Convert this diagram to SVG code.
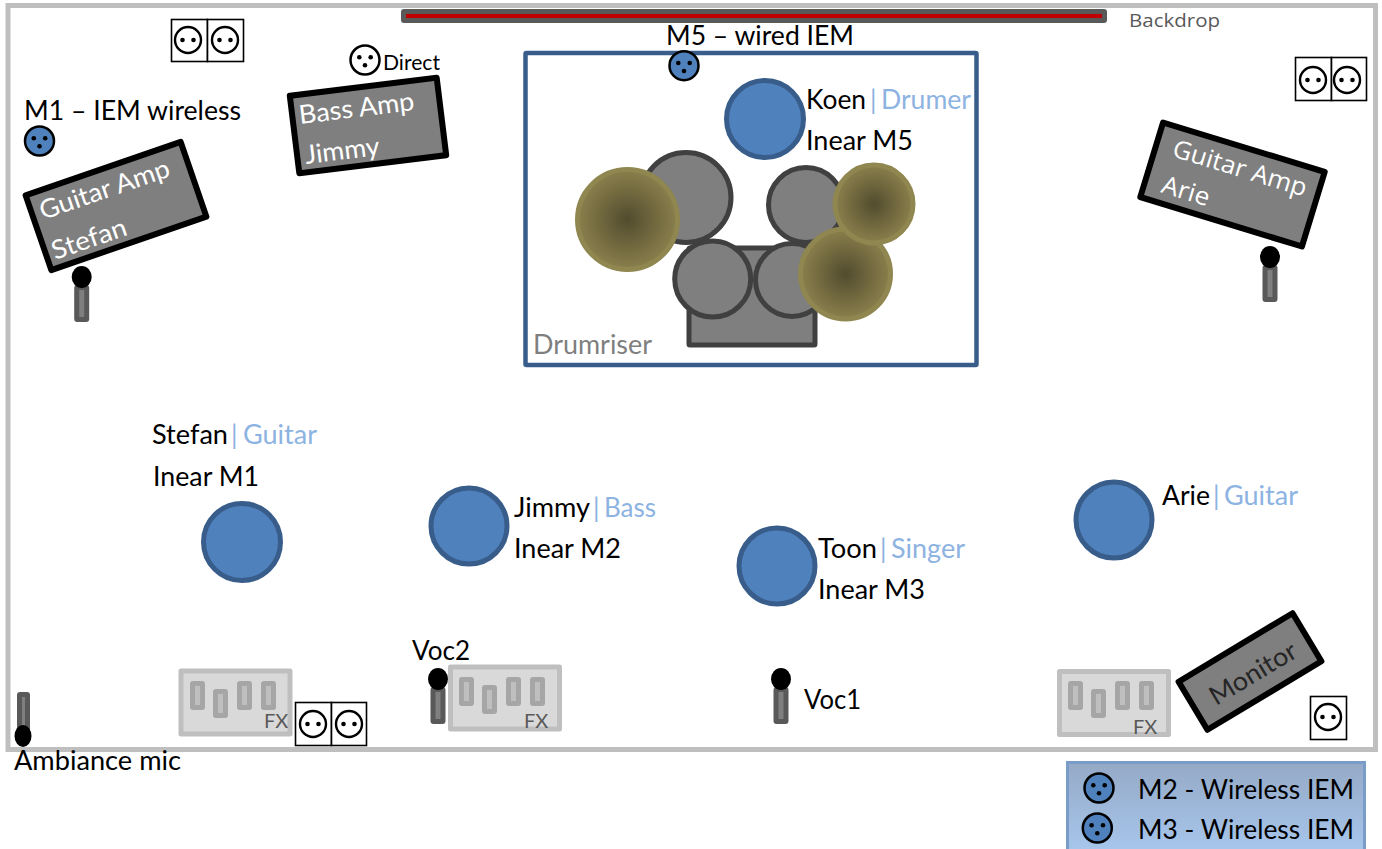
<svg xmlns="http://www.w3.org/2000/svg" xmlns:xlink="http://www.w3.org/1999/xlink" width="1382" height="849" viewBox="0 0 1382 849">
<style>
text{font-family:"Lato","Carlito","Liberation Sans",sans-serif;font-size:26px;fill:#000}
.w{fill:#fff}.b{fill:#8db3e2}.g{fill:#7f7f7f}
.os{font-family:"Open Sans","Liberation Sans",sans-serif}
.amp{fill:#7f7f7f;stroke:#000;stroke-width:6;stroke-linejoin:round}
.p{fill:#4f81bd;stroke:#385d8a;stroke-width:5}
.d{fill:#7f7f7f;stroke:#404040;stroke-width:5}
.c{fill:url(#cym);stroke:#8f8650;stroke-width:5}
.fxb{fill:#d9d9d9;stroke:#bfbfbf;stroke-width:5;stroke-linejoin:round}
.sl{fill:#a6a6a6}.si{fill:#bfbfbf}
.fx{font-size:20px;fill:#595959}
.sb{fill:#fff;stroke:#000;stroke-width:1.6}
.sc{fill:#fff;stroke:#000;stroke-width:2.4}
.xw{fill:#fff;stroke:#000;stroke-width:2.5}
.xb{fill:#4f81bd;stroke:#000;stroke-width:2.5}
</style>
<defs>
<radialGradient id="cym"><stop offset="0" stop-color="#524c2e"/><stop offset="1" stop-color="#8a7f4c"/></radialGradient>
<linearGradient id="leg" x1="0" y1="0" x2="0" y2="1"><stop offset="0" stop-color="#95a9c6"/><stop offset="1" stop-color="#a9caf1"/></linearGradient>
<g id="dots3"><circle cx="-5.7" cy="-2.7" r="2.3"/><circle cx="5.7" cy="-2.7" r="2.3"/><circle cx="0" cy="5.3" r="2.3"/></g>
<g id="pin"><circle r="13" class="sc"/><circle cx="-5.5" r="2.3"/><circle cx="5.5" r="2.3"/></g>
<g id="mic"><rect x="-7.500" y="8" width="15" height="37" rx="3" fill="#595959"/><rect x="-2.500" y="13" width="5" height="27" fill="#7f7f7f"/><ellipse cx="0" cy="0" rx="10" ry="11"/></g>
<g id="fxs"><rect x="11" y="12" width="15" height="29" rx="3" class="sl"/><rect x="16" y="17" width="5" height="19" class="si"/><rect x="34" y="20" width="15" height="29" rx="3" class="sl"/><rect x="39" y="25" width="5" height="19" class="si"/><rect x="58" y="12" width="15" height="29" rx="3" class="sl"/><rect x="63" y="17" width="5" height="19" class="si"/><rect x="82" y="12" width="15" height="29" rx="3" class="sl"/><rect x="87" y="17" width="5" height="19" class="si"/></g>
</defs>
<g id="stage"><rect x="8" y="5.5" width="1367.5" height="744" fill="#fff" stroke="#bfbfbf" stroke-width="5"/></g>
<g id="backdrop"><rect x="401" y="9" width="706" height="14" rx="3" fill="#595959"/><rect x="406" y="14" width="696" height="4" fill="#c00000"/><text x="1129" y="27" class="os" style="font-size:19px;fill:#595959" textLength="91" lengthAdjust="spacingAndGlyphs">Backdrop</text></g>
<g id="drumriser"><rect x="525.5" y="53" width="451" height="312" rx="1" fill="#fff" stroke="#385d8a" stroke-width="4.5"/><text x="533" y="354" class="g" textLength="119" lengthAdjust="spacingAndGlyphs">Drumriser</text></g>
<g id="drums">
<circle class="d" cx="686" cy="197.5" r="45"/>
<circle class="d" cx="806" cy="205" r="37.5"/>
<rect class="d" x="689" y="248" width="126" height="97" rx="1"/>
<circle class="d" cx="792" cy="280" r="36.5"/>
<circle class="d" cx="712.7" cy="279" r="38"/>
<circle class="c" cx="627.500" cy="219.500" r="50"/>
<circle class="c" cx="845.500" cy="274" r="45"/>
<circle class="c" cx="874" cy="204" r="39"/>
</g>
<g id="koen"><circle class="p" cx="765" cy="119" r="38.5"/><text x="806" y="108.500" textLength="60" lengthAdjust="spacingAndGlyphs">Koen</text><text x="870" y="108.500" class="b">|</text><text x="881" y="108.500" class="b" textLength="90" lengthAdjust="spacingAndGlyphs">Drumer</text><text x="806" y="149.500" textLength="107" lengthAdjust="spacingAndGlyphs">Inear M5</text></g>
<g id="stefan"><circle class="p" cx="242" cy="542" r="38.5"/><text x="152" y="444" textLength="76" lengthAdjust="spacingAndGlyphs">Stefan</text><text x="231" y="444" class="b">|</text><text x="243" y="444" class="b" textLength="74" lengthAdjust="spacingAndGlyphs">Guitar</text><text x="153" y="486" textLength="106" lengthAdjust="spacingAndGlyphs">Inear M1</text></g>
<g id="jimmy"><circle class="p" cx="469" cy="526" r="38"/><text x="514" y="517" textLength="76" lengthAdjust="spacingAndGlyphs">Jimmy</text><text x="593" y="517" class="b">|</text><text x="604" y="517" class="b" textLength="52" lengthAdjust="spacingAndGlyphs">Bass</text><text x="514" y="558" textLength="107" lengthAdjust="spacingAndGlyphs">Inear M2</text></g>
<g id="toon"><circle class="p" cx="777" cy="566" r="38"/><text x="818" y="558" textLength="59" lengthAdjust="spacingAndGlyphs">Toon</text><text x="880" y="558" class="b">|</text><text x="891" y="558" class="b" textLength="74" lengthAdjust="spacingAndGlyphs">Singer</text><text x="818" y="599" textLength="107" lengthAdjust="spacingAndGlyphs">Inear M3</text></g>
<g id="arie"><circle class="p" cx="1114" cy="520" r="38"/><text x="1162" y="505" textLength="48" lengthAdjust="spacingAndGlyphs">Arie</text><text x="1213" y="505" class="b">|</text><text x="1224" y="505" class="b" textLength="74" lengthAdjust="spacingAndGlyphs">Guitar</text></g>
<g id="amp-stefan"><rect class="amp" x="-82" y="-39.500" width="164" height="79" transform="translate(116 206) rotate(-19)"/><text class="w" transform="translate(43 220) rotate(-19)" textLength="136" lengthAdjust="spacingAndGlyphs">Guitar Amp</text><text class="w" transform="translate(55 260) rotate(-19)" textLength="78" lengthAdjust="spacingAndGlyphs">Stefan</text></g>
<g id="amp-jimmy"><rect class="amp" x="-74" y="-39" width="148" height="78" transform="translate(368 125.500) rotate(-7)"/><text class="w" transform="translate(300 124) rotate(-7)" textLength="116" lengthAdjust="spacingAndGlyphs">Bass Amp</text><text class="w" transform="translate(306 164) rotate(-7)" textLength="75" lengthAdjust="spacingAndGlyphs">Jimmy</text></g>
<g id="amp-arie"><rect class="amp" x="-84.500" y="-39" width="169" height="78" transform="translate(1232.500 184.500) rotate(17)"/><text class="w os" style="font-size:25px" transform="translate(1171 156) rotate(17)" textLength="139" lengthAdjust="spacingAndGlyphs">Guitar Amp</text><text class="w os" style="font-size:25px" transform="translate(1160 192) rotate(17)" textLength="49" lengthAdjust="spacingAndGlyphs">Arie</text></g>
<g id="monitor"><rect class="amp" x="-66.500" y="-28" width="133" height="56" transform="translate(1250 671.500) rotate(-31)"/><text style="fill:#262626" transform="translate(1216 706) rotate(-31)" textLength="97" lengthAdjust="spacingAndGlyphs">Monitor</text></g>
<g id="mic-stefan"><use xlink:href="#mic" href="#mic" x="81.700" y="277"/></g>
<g id="mic-arie"><use xlink:href="#mic" href="#mic" x="1270" y="257"/></g>
<g id="mic-voc1"><use xlink:href="#mic" href="#mic" x="781" y="679"/><text x="804" y="709" textLength="57" lengthAdjust="spacingAndGlyphs">Voc1</text></g>
<g id="mic-voc2"><use xlink:href="#mic" href="#mic" x="438" y="679"/><text x="412" y="660" textLength="58" lengthAdjust="spacingAndGlyphs">Voc2</text></g>
<g id="mic-ambiance"><rect x="17" y="692" width="13" height="42" rx="3" fill="#595959"/><rect x="22" y="697" width="3" height="32" fill="#7f7f7f"/><ellipse cx="23" cy="736" rx="8.500" ry="11"/><text x="14" y="770" textLength="167" lengthAdjust="spacingAndGlyphs">Ambiance mic</text></g>
<g id="fx1"><rect class="fxb" x="181" y="671" width="109" height="63"/><use xlink:href="#fxs" href="#fxs" x="179" y="669"/><text class="fx" x="264" y="728">FX</text></g>
<g id="fx2"><rect class="fxb" x="450.500" y="667" width="109" height="62"/><use xlink:href="#fxs" href="#fxs" x="448" y="665"/><text class="fx" x="524" y="728">FX</text></g>
<g id="fx3"><rect class="fxb" x="1059.500" y="671.500" width="109" height="63"/><use xlink:href="#fxs" href="#fxs" x="1057" y="669"/><text class="fx" x="1133" y="734">FX</text></g>
<g id="power-topleft"><rect class="sb" x="171.500" y="19.500" width="36" height="42"/><rect class="sb" x="207.500" y="19.500" width="36" height="42"/><use xlink:href="#pin" href="#pin" x="188" y="40"/><use xlink:href="#pin" href="#pin" x="225" y="40"/></g>
<g id="power-topright"><rect class="sb" x="1295.500" y="57.500" width="36" height="43"/><rect class="sb" x="1331.500" y="57.500" width="35" height="43"/><use xlink:href="#pin" href="#pin" x="1313" y="80"/><use xlink:href="#pin" href="#pin" x="1347" y="80"/></g>
<g id="power-bottom"><rect class="sb" x="295.500" y="702.500" width="36" height="43"/><rect class="sb" x="331.500" y="702.500" width="35" height="43"/><use xlink:href="#pin" href="#pin" x="313" y="724"/><use xlink:href="#pin" href="#pin" x="349" y="724"/></g>
<g id="power-single"><rect class="sb" x="1310.500" y="696.500" width="36" height="43"/><use xlink:href="#pin" href="#pin" x="1328" y="717"/></g>
<g id="direct"><circle class="xw" cx="365" cy="60" r="14.500"/><use xlink:href="#dots3" href="#dots3" x="365" y="60"/><text x="383" y="69.500" style="font-size:21px" textLength="57" lengthAdjust="spacingAndGlyphs">Direct</text></g>
<g id="m1"><text x="24" y="119.500" textLength="217" lengthAdjust="spacingAndGlyphs">M1 – IEM wireless</text><circle class="xb" cx="39.500" cy="141" r="14.500"/><use xlink:href="#dots3" href="#dots3" x="39.500" y="141"/></g>
<g id="m5"><text x="666" y="45" textLength="188" lengthAdjust="spacingAndGlyphs">M5 – wired IEM</text><circle class="xb" cx="684" cy="65.700" r="14.500"/><use xlink:href="#dots3" href="#dots3" x="684" y="65.700"/></g>
<g id="legend"><rect x="1067.500" y="762.500" width="297" height="100" fill="url(#leg)" stroke="#7a9cc8" stroke-width="3"/>
<circle class="xb" cx="1099" cy="788" r="14.500"/><use xlink:href="#dots3" href="#dots3" x="1099" y="788"/><text x="1138" y="799" textLength="216" lengthAdjust="spacingAndGlyphs">M2 - Wireless IEM</text>
<circle class="xb" cx="1097.300" cy="828" r="14.500"/><use xlink:href="#dots3" href="#dots3" x="1097.300" y="828"/><text x="1138" y="839" textLength="216" lengthAdjust="spacingAndGlyphs">M3 - Wireless IEM</text></g>
</svg>
